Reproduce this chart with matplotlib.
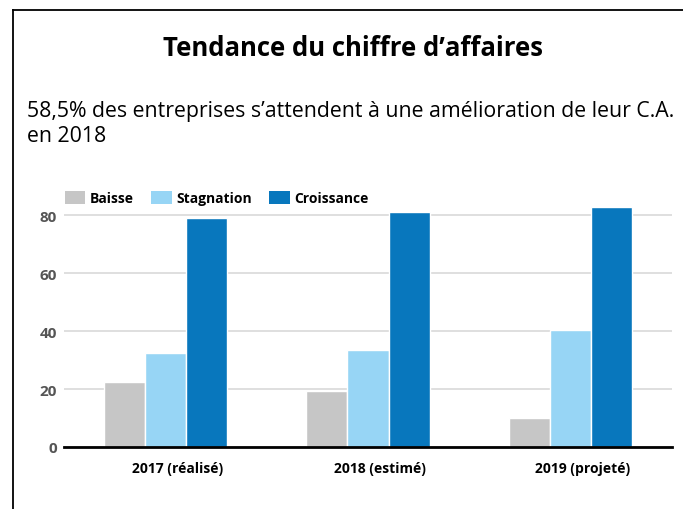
import matplotlib
matplotlib.use("Agg")
import matplotlib.pyplot as plt
import matplotlib.transforms as mtransforms
import numpy as np
from matplotlib.lines import Line2D
from matplotlib.patches import Patch

categories = ["2017 (réalisé)", "2018 (estimé)", "2019 (projeté)"]
series_names = ["Baisse", "Stagnation", "Croissance"]
baisse = [22.3, 19.3, 9.9]
stagnation = [32.4, 33.4, 40.3]
croissance = [79.0, 80.9, 82.8]
yticks = [0, 20, 40, 60, 80]
colors = ["#c6c6c6", "#97d5f5", "#0877bd"]

plt.rcParams['font.family'] = ['Open Sans', 'DejaVu Sans']

W, H = 683, 510
fig = plt.figure(figsize=(W/100, H/100), dpi=100)

# frame
fig.add_artist(Line2D([13/W, 13/W], [0, 1-11/H], transform=fig.transFigure, color='black', lw=1.3))
fig.add_artist(Line2D([13/W, 1], [1-11/H, 1-11/H], transform=fig.transFigure, color='black', lw=1.3))

fig.text(353/W, 1-48/H, "Tendance du chiffre d\u2019affaires", ha='center', va='center',
         fontsize=18.5, fontweight='bold')
fig.text(27/W, 1-112/H, "58,5% des entreprises s\u2019attendent à une amélioration de leur C.A.",
         ha='left', va='center', fontsize=15.3)
fig.text(27/W, 1-137/H, "en 2018", ha='left', va='center', fontsize=15.3)

ymax = 85
ax = fig.add_axes([64/W, 62/H, 608/W, ymax*2.9/H])
x = np.arange(len(categories))
bw = 0.203
for i, (vals, c) in enumerate(zip([baisse, stagnation, croissance], colors)):
    ax.bar(x + (i-1)*bw, vals, width=bw, color=c, edgecolor='white', linewidth=1.0, zorder=3)

ax.set_xlim(-0.5, 2.5)
ax.set_ylim(0, ymax)
ax.set_yticks(yticks)
ax.set_yticklabels([str(v) for v in yticks], fontweight='bold', color='#555555', fontsize=11)
ax.set_xticks(x)
ax.set_xticklabels(categories, fontweight='bold', fontsize=10)
ax.tick_params(axis='both', length=0)
ax.tick_params(axis='x', pad=10)
ax.tick_params(axis='y', pad=5)
offset = mtransforms.ScaledTranslation(12/100, 0, fig.dpi_scale_trans)
for lbl in ax.get_xticklabels():
    lbl.set_transform(lbl.get_transform() + offset)
ax.grid(axis='y', color='#d9d9d9', lw=1.2, zorder=0)
for s in ['top', 'right', 'left']:
    ax.spines[s].set_visible(False)
ax.spines['bottom'].set_linewidth(2)
ax.spines['bottom'].set_zorder(4)

handles = [Patch(facecolor=c, edgecolor='none') for c in colors]
leg = fig.legend(handles, series_names, loc='center left', bbox_to_anchor=(52/W, 1-199/H),
                 ncol=3, frameon=False, handlelength=1.5, handleheight=1.1,
                 handletextpad=0.35, columnspacing=1.2, prop={'weight': 'bold', 'size': 10})

fig.savefig("out.png", dpi=100)
